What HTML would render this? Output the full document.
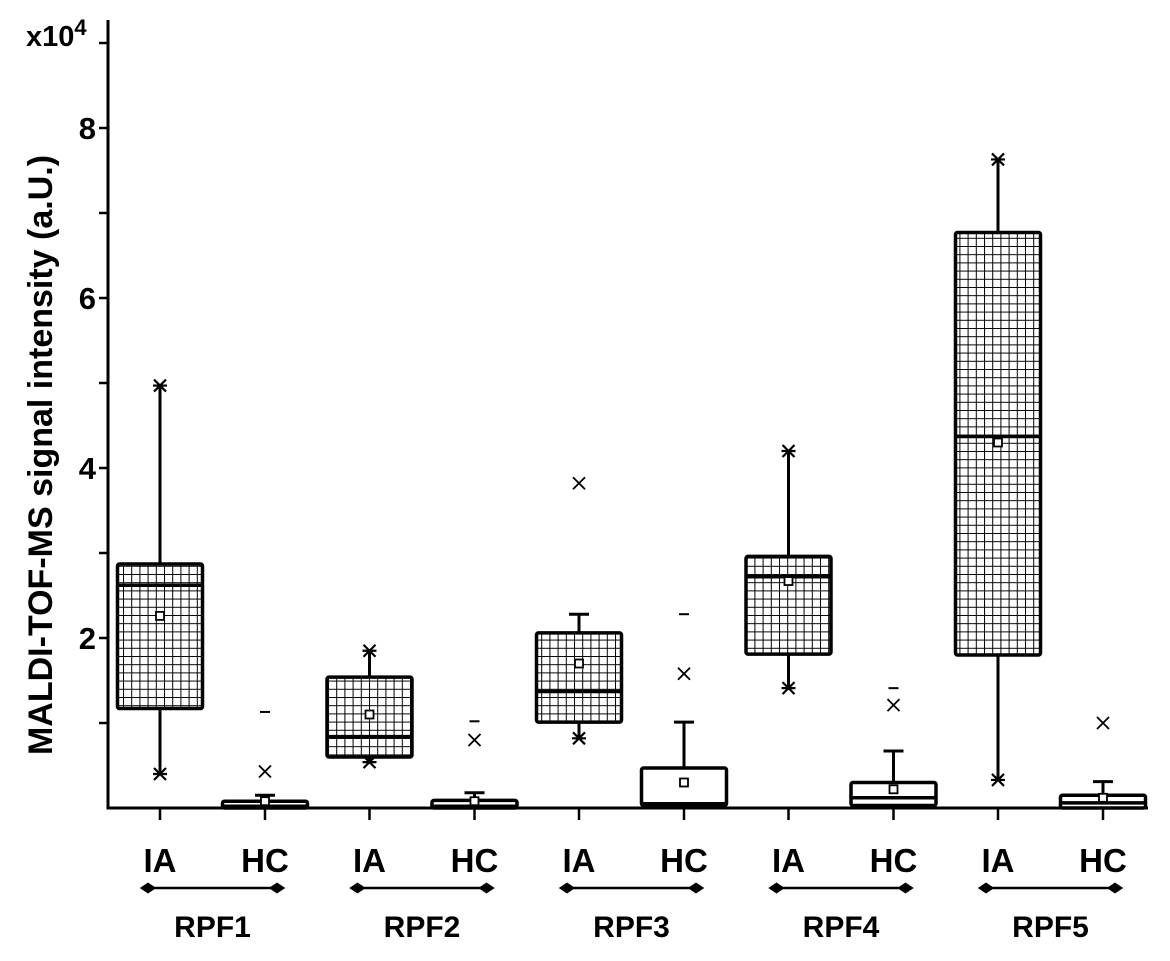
<!DOCTYPE html>
<html><head><meta charset="utf-8"><style>
body{margin:0;background:#fff;}
svg text{font-family:"Liberation Sans",Arial,sans-serif;font-weight:bold;fill:#000;}
</style></head><body>
<svg id="chart" width="1170" height="956" xmlns="http://www.w3.org/2000/svg">
<defs>
<pattern id="grid" width="8.2" height="8.2" patternUnits="userSpaceOnUse">
<rect width="8.2" height="8.2" fill="#fff"/>
<path d="M0 0H8.2M0 0V8.2" stroke="#000" stroke-width="2"/>
</pattern>
</defs>
<g id="plot"></g>
</svg>
<script>
const groups=["RPF1","RPF2","RPF3","RPF4","RPF5"];
const series=["IA","HC"];
// values in x10^4 : [q1, median, q3, mean, whiskerLow, whiskerHigh]
const iaBox=[[1.17,2.62,2.87,2.26,0.40,4.97],[0.60,0.84,1.54,1.10,0.54,1.85],[1.01,1.37,2.06,1.70,0.82,2.28],[1.81,2.72,2.96,2.67,1.41,4.20],[1.80,4.37,6.77,4.30,0.33,7.63]];
const hcBox=[[0,0.02,0.08,0.08,0,0.15],[0,0.02,0.09,0.08,0,0.18],[0.03,0.05,0.47,0.30,0,1.01],[0.03,0.12,0.30,0.22,0,0.67],[0,0.06,0.15,0.12,0,0.31]];
const iaStars=[[0.40,4.97],[0.54,1.85],[0.82],[1.41,4.20],[0.33,7.63]];
const iaX=[[],[],[3.82],[],[]];
const hcX=[0.43,0.80,1.58,1.21,1.00];
const hcDash=[1.13,1.02,2.28,1.41,null];
const yTicks=[0,1,2,3,4,5,6,7,8,9];
const yLabels=[2,4,6,8];

const NS="http://www.w3.org/2000/svg";
const g=document.getElementById('plot');
const y0=808,ky=85,axisX=108;
const yS=v=>y0-v*ky;
const groupX=i=>160+i*209.5;
const seriesOff=[0,105];
const boxW=85;
function el(t,a,p){const e=document.createElementNS(NS,t);for(const k in a)e.setAttribute(k,a[k]);(p||g).appendChild(e);return e;}
function line(x1,y1,x2,y2,w){return el('line',{x1,y1,x2,y2,stroke:'#000','stroke-width':w||3});}

let a=line(axisX,20,axisX,y0+1.5,3);


a=line(axisX-1.5,y0,1148,y0,3);


yTicks.forEach(v=>{if(v>0){const t=line(axisX-9,yS(v),axisX,yS(v),2.5);

}});
yLabels.forEach(v=>{const t=el('text',{x:96,y:yS(v)+11,'font-size':31,'text-anchor':'end'});t.textContent=v;

});
let t=el('text',{x:26,y:46,'font-size':29});t.innerHTML='x10<tspan dy="-11" font-size="22">4</tspan>';


t=el('text',{x:0,y:0,'font-size':34,'text-anchor':'middle',transform:'translate(52,455) rotate(-90)'});t.textContent='MALDI-TOF-MS signal intensity (a.U.)';



function star(x,v){const y=yS(v);const s=el('g',{});
el('path',{d:`M${x-6} ${y-6}L${x+6} ${y+6}M${x+6} ${y-6}L${x-6} ${y+6}M${x-7} ${y}H${x+7}`,stroke:'#000','stroke-width':2.2,fill:'none'},s);

}
function xmark(x,v){const y=yS(v);const s=el('path',{d:`M${x-6} ${y-6}L${x+6} ${y+6}M${x+6} ${y-6}L${x-6} ${y+6}`,stroke:'#000','stroke-width':1.8,fill:'none'});

}

groups.forEach((gName,i)=>{
  [iaBox[i],hcBox[i]].forEach((b,si)=>{
    const cx=groupX(i)+seriesOff[si];
    const [q1,med,q3,mean,wl,wh]=b;
    const wk=line(cx,yS(q3),cx,yS(wh),3);
    
    
    if(si===1||i===2){const c=line(cx-10,yS(wh),cx+10,yS(wh),3);
    
    }
    line(cx,yS(q1),cx,yS(wl),3);
    const r=el('rect',{x:cx-boxW/2,y:yS(q3),width:boxW,height:Math.max(yS(q1)-yS(q3),3),fill:si===0?'url(#grid)':'#fff',stroke:'#000','stroke-width':3.5,rx:2});
    
    
    const m=line(cx-boxW/2,yS(med),cx+boxW/2,yS(med),3.5);
    
    
    const mm=el('rect',{x:cx-4,y:yS(mean)-4,width:8,height:8,fill:'#fff',stroke:'#000','stroke-width':1.8});
    
    
    const tk=line(cx,y0,cx,y0+12,2.5);
    
    
    const lb=el('text',{x:cx,y:872,'font-size':33,'text-anchor':'middle'});lb.textContent=series[si];
    
    
  });
  iaStars[i].forEach(v=>star(groupX(i),v));
  iaX[i].forEach(v=>xmark(groupX(i),v));
  const hx=groupX(i)+seriesOff[1];
  xmark(hx,hcX[i]);
  if(hcDash[i]!==null){const d=line(hx-5,yS(hcDash[i]),hx+5,yS(hcDash[i]),2);
  
  }
  const x1=groupX(i)-12,x2=hx+12;
  const br=el('path',{d:`M${x1} 888H${x2}M${x1-6} 888l6-4 6 4-6 4zM${x2-6} 888l6-4 6 4-6 4z`,stroke:'#000','stroke-width':2.5,fill:'#000'});
  
  
  const gl=el('text',{x:(groupX(i)+hx)/2,y:937,'font-size':30,'text-anchor':'middle'});gl.textContent=gName;
  
  
});
</script>
</body></html>
